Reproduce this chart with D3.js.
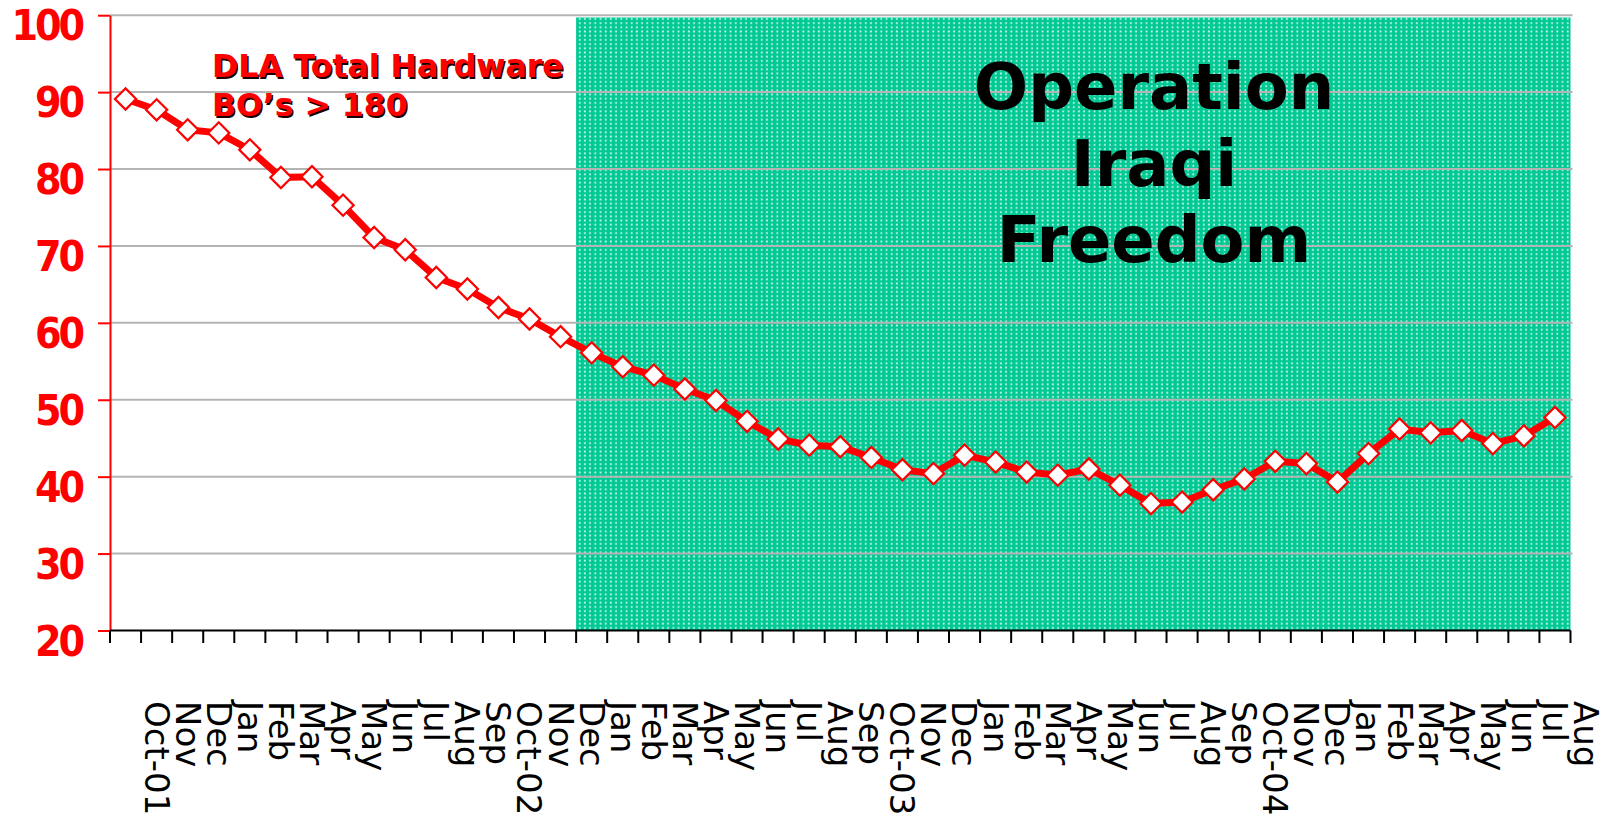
<!DOCTYPE html>
<html>
<head>
<meta charset="utf-8">
<script src="https://cdn.jsdelivr.net/npm/d3@7"></script>
<style>
  html, body { margin: 0; padding: 0; background: #ffffff; }
  svg { display: block; }
</style>
</head>
<body>
<svg id="chart" width="1608" height="819"></svg>
<script>
// ---- data ----
const categories = ["Oct-01","Nov","Dec","Jan","Feb","Mar","Apr","May","Jun","Jul","Aug","Sep",
  "Oct-02","Nov","Dec","Jan","Feb","Mar","Apr","May","Jun","Jul","Aug","Sep",
  "Oct-03","Nov","Dec","Jan","Feb","Mar","Apr","May","Jun","Jul","Aug","Sep",
  "Oct-04","Nov","Dec","Jan","Feb","Mar","Apr","May","Jun","Jul","Aug"];
const values = [89.1, 87.7, 85.1, 84.7, 82.5, 78.9, 79.0, 75.3, 71.1, 69.5, 65.9, 64.4,
  62.0, 60.5, 58.2, 56.1, 54.3, 53.2, 51.4, 49.9, 47.2, 44.9, 44.1, 43.9,
  42.5, 40.9, 40.4, 42.8, 41.9, 40.6, 40.2, 41.0, 38.9, 36.5, 36.7, 38.3,
  39.7, 42.0, 41.7, 39.3, 43.0, 46.2, 45.7, 46.0, 44.3, 45.3, 47.7];
const yTicks = [20, 30, 40, 50, 60, 70, 80, 90, 100];
const yDomain = [20, 100];
const shadeStartIndex = 15;      // OIF shading begins at Jan-03
const shadeTopValue = 99.7;
const titleLines = ["DLA Total Hardware", "BO\u2019s > 180"];
const oifLines = ["Operation", "Iraqi", "Freedom"];

// ---- layout ----
const svg = d3.select("#chart");
const mLeft = 110, mRight = 1570.5, mTop = 15.2, mBottom = 630.5;
const idx = d3.range(categories.length);
const x = d3.scaleBand().domain(idx).range([mLeft, mRight]).padding(0);
const bw = x.bandwidth();
const cx = i => x(i) + bw / 2;
const y = d3.scaleLinear().domain(yDomain).range([mBottom, mTop]);

// pattern
const defs = svg.append("defs");
const pat = defs.append("pattern").attr("id", "dots")
  .attr("patternUnits", "userSpaceOnUse").attr("width", 5.2).attr("height", 4.2);
pat.append("rect").attr("width", 5.2).attr("height", 4.2).attr("fill", "#00c994");
pat.append("rect").attr("x", 1.6).attr("y", 1.2).attr("width", 1.8).attr("height", 1.8)
  .attr("fill", "#ffffff").attr("opacity", 0.8);

// shaded region
svg.append("rect")
  .attr("x", x(shadeStartIndex))
  .attr("y", y(shadeTopValue))
  .attr("width", mRight - x(shadeStartIndex))
  .attr("height", y(yDomain[0]) - y(shadeTopValue))
  .attr("fill", "url(#dots)");

// gridlines
svg.append("g").selectAll("line")
  .data(yTicks.filter(t => t > yDomain[0]))
  .join("line")
  .attr("x1", mLeft).attr("x2", mRight + 2)
  .attr("y1", d => y(d)).attr("y2", d => y(d))
  .attr("stroke", "#b4b4b4").attr("stroke-width", 2);

// OIF text
const oif = svg.append("text")
  .attr("font-family", "DejaVu Sans, sans-serif")
  .attr("font-weight", "bold").attr("font-size", 64)
  .attr("fill", "#000").attr("text-anchor", "middle");
oifLines.forEach((t, k) => {
  oif.append("tspan").attr("x", 1154).attr("y", 109 + k * 76.5).text(t);
});

// y axis
const yAxis = svg.append("g").attr("transform", `translate(${mLeft},0)`)
  .call(d3.axisLeft(y).tickValues(yTicks).tickSize(12).tickSizeOuter(0).tickFormat(d3.format("d")));
yAxis.select(".domain").attr("stroke", "#ff0000").attr("stroke-width", 2);
yAxis.selectAll(".tick line").attr("stroke", "#ff0000").attr("stroke-width", 2);
yAxis.selectAll(".tick text")
  .attr("fill", "#ff0000")
  .attr("font-family", "DejaVu Sans, sans-serif")
  .attr("font-weight", "bold")
  .attr("font-size", 42.5)
  .attr("letter-spacing", "-3.5px")
  .attr("text-anchor", "end")
  .attr("x", null).attr("dy", null)
  .attr("transform", "translate(-28,24.5) scale(0.9,1)");

// x axis
const xg = svg.append("g");
xg.append("line").attr("x1", mLeft).attr("x2", mRight).attr("y1", mBottom).attr("y2", mBottom)
  .attr("stroke", "#000").attr("stroke-width", 2);
xg.selectAll("line.tk").data(d3.range(categories.length + 1)).join("line")
  .attr("class", "tk")
  .attr("x1", i => i < categories.length ? x(i) : x(i - 1) + bw)
  .attr("x2", i => i < categories.length ? x(i) : x(i - 1) + bw)
  .attr("y1", mBottom).attr("y2", mBottom + 12.5)
  .attr("stroke", "#000").attr("stroke-width", 2);
xg.selectAll("text").data(idx).join("text")
  .attr("transform", i => `translate(${cx(i) + 19},701) rotate(90)`)
  .attr("font-family", "DejaVu Sans, sans-serif")
  .attr("font-size", 34)
  .attr("fill", "#000")
  .text(i => categories[i]);

// line
const line = d3.line().x((d, i) => cx(i)).y(d => y(d));
svg.append("path").datum(values)
  .attr("d", line)
  .attr("fill", "none").attr("stroke", "#ff0000").attr("stroke-width", 7)
  .attr("stroke-linejoin", "round");

// markers
const sym = d3.symbol().type(d3.symbolSquare).size(225);
svg.append("g").selectAll("path").data(values).join("path")
  .attr("d", sym)
  .attr("transform", (d, i) => `translate(${cx(i)},${y(d)}) rotate(45)`)
  .attr("fill", "#ffffff").attr("stroke", "#ff0000").attr("stroke-width", 2.2);

// title with shadow
const tg = svg.append("g")
  .attr("font-family", "DejaVu Sans, sans-serif")
  .attr("font-weight", "bold").attr("font-size", 31.5);
titleLines.forEach((t, k) => {
  tg.append("text").attr("x", 213.5).attr("y", 78.5 + k * 39).attr("fill", "#1a0000").text(t);
  tg.append("text").attr("x", 212).attr("y", 77 + k * 39).attr("fill", "#ff0000").text(t);
});
</script>
</body>
</html>
